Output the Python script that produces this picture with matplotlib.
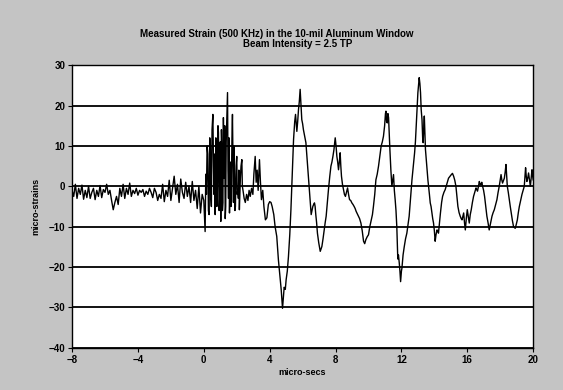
import numpy as np
import matplotlib.pyplot as plt

# strain record (micro-secs, micro-strains)
pre_time = [-8.0, -7.9, -7.8, -7.7, -7.6, -7.5, -7.4, -7.3, -7.2, -7.1,
            -7.0, -6.9, -6.8, -6.7, -6.6, -6.5, -6.4, -6.3, -6.2, -6.1,
            -6.0, -5.9, -5.8, -5.7, -5.6, -5.5, -5.4, -5.3, -5.2, -5.1,
            -5.0, -4.9, -4.8, -4.7, -4.6, -4.5, -4.4, -4.3, -4.2, -4.1,
            -4.0, -3.9, -3.8, -3.7, -3.6, -3.5, -3.4, -3.3, -3.2, -3.1,
            -3.0, -2.9, -2.8, -2.7, -2.6, -2.5, -2.4, -2.3, -2.2, -2.1,
            -2.0, -1.9, -1.8, -1.7, -1.6, -1.5, -1.4, -1.3, -1.2, -1.1,
            -1.0, -0.9, -0.8, -0.7, -0.6, -0.5, -0.4, -0.3, -0.2, -0.1, 0.0]
pre_strain = [-1.0, -2.5, 0.5, -3.0, -0.5, -2.0, 0.3, -3.2, -1.0, -2.8,
              0.0, -3.0, -1.5, -0.5, -3.3, -1.0, -2.5, 0.2, -2.8, -0.8,
              -1.5, 0.5, -2.0, -1.0, -3.5, -5.8, -4.0, -2.5, -4.5, -0.5,
              -2.5, 0.5, -3.0, -0.5, -2.0, 0.8, -2.5, -1.0, -1.8, -0.5,
              -2.2, -1.0, -1.5, -0.8, -2.5, -1.2, -2.0, -0.5, -1.5, -2.8,
              -0.5, -1.5, -3.5, -2.0, -3.0, 0.5, -3.8, -1.0, -2.5, 1.5,
              -3.5, -0.5, 2.5, -2.0, 0.5, -4.0, 1.8, -1.5, -3.0, 1.0,
              -2.5, 0.0, -4.0, 1.2, -3.5, -1.0, -5.5, 0.0, -6.6, -2.0, -3.5]

burst_time = [0.08, 0.12, 0.16, 0.20, 0.24, 0.28, 0.32, 0.36, 0.40, 0.43,
              0.46, 0.50, 0.55, 0.59, 0.62, 0.66, 0.69, 0.73, 0.76, 0.79,
              0.82, 0.86, 0.89, 0.93, 0.96, 1.00, 1.03, 1.07, 1.10, 1.13,
              1.16, 1.19, 1.22, 1.24, 1.27, 1.30, 1.33, 1.36, 1.40, 1.44,
              1.47, 1.50, 1.53, 1.56, 1.59, 1.62, 1.65, 1.67, 1.71, 1.74,
              1.77, 1.80, 1.83, 1.86, 1.89, 1.92, 1.96, 2.00, 2.03, 2.06,
              2.10, 2.13, 2.16, 2.19, 2.22, 2.26, 2.31, 2.34, 2.38, 2.45,
              2.52, 2.60, 2.68, 2.75, 2.82, 2.90, 2.98, 3.04, 3.12, 3.18,
              3.24, 3.30, 3.38, 3.44, 3.50, 3.58, 3.65, 3.74, 3.83, 3.92,
              4.00, 4.08, 4.15]
burst_strain = [-11.2, 3, -2, 10, 8, -6, -7, 12, 10, -3,
                -5, 14, 17.8, 5, -2, 8, -7, 12, 9, -5,
                -4, 15, 13.3, -6, -3, 11, -8.7, 14, 10, -6,
                -4, 17, 8, 2, 15, -8, -5, 11, 17, 23.2,
                4, -3, 12, -6.6, 3, 6, -5, -2, 12, 17.8,
                6, -4, 10, 3, -6, -5, 5, 7.4, -2, -1,
                -3, 4, -5.8, -2, 2, 5, 6.6, 0, -1, -3,
                -4, -2, -3.5, -1, -2.5, -0.5, -2, 3, 7.4, 1,
                4, -1, 6.6, 1, -3.3, -1, -5, -8.3, -7.8, -4.5,
                -3.8, -4, -5]

wave_time = [4.25, 4.33, 4.43, 4.53, 4.62, 4.70, 4.78, 4.84, 4.88, 4.95,
             5.00, 5.07, 5.14, 5.22, 5.29, 5.37, 5.45, 5.52, 5.57, 5.62,
             5.65, 5.70, 5.75, 5.80, 5.85, 5.90, 5.95, 6.00, 6.05, 6.12,
             6.20, 6.25, 6.30, 6.36, 6.42, 6.47, 6.52, 6.57, 6.62, 6.67,
             6.72, 6.76, 6.80, 6.85, 6.90, 6.98, 7.07, 7.12, 7.17, 7.24,
             7.31, 7.37, 7.43, 7.50, 7.57, 7.65, 7.72, 7.78, 7.84, 7.90,
             7.98, 8.03, 8.08, 8.13, 8.18, 8.23, 8.28, 8.32, 8.36, 8.42,
             8.48, 8.54, 8.60, 8.66, 8.73, 8.79, 8.85, 8.92, 8.99, 9.06,
             9.13, 9.19, 9.25, 9.32, 9.39, 9.46, 9.54, 9.62, 9.70, 9.77,
             9.84, 9.92, 10.00, 10.08, 10.17, 10.24, 10.30, 10.38, 10.45, 10.53,
             10.61, 10.69, 10.77, 10.84, 10.91, 10.98, 11.03, 11.06, 11.10, 11.14,
             11.18, 11.22, 11.26, 11.30, 11.36, 11.42, 11.47, 11.52, 11.57, 11.62,
             11.67, 11.72, 11.78, 11.82, 11.87, 11.91, 11.95, 12.00, 12.03, 12.10,
             12.17, 12.25, 12.33, 12.40, 12.47, 12.55, 12.64, 12.72, 12.80, 12.85,
             12.90, 12.95, 13.00, 13.04, 13.08, 13.12, 13.16, 13.20, 13.25, 13.29,
             13.32, 13.36, 13.39, 13.43, 13.46, 13.52, 13.57, 13.61, 13.65, 13.70,
             13.75, 13.80, 13.85, 13.90, 13.95, 14.00, 14.05, 14.10, 14.16, 14.21,
             14.25, 14.31, 14.37, 14.44, 14.50, 14.58, 14.66, 14.75, 14.86, 14.95]
wave_strain = [-7, -10, -12.4, -18.2, -22, -25.6, -30.2, -27, -25, -25.5,
               -23.1, -21, -17.4, -12, -5.8, 3, 11.6, 16, 17.8, 15,
               13.6, 16, 19, 21, 24, 20, 16.5, 15.5, 14, 12.5,
               10.8, 8, 5, 2, -1.7, -4, -7, -6, -5, -4.5,
               -4.1, -5, -7, -9, -11.6, -14, -16.1, -15.5, -14.9, -13,
               -10.8, -9, -7.4, -4, -0.8, 2.5, 5, 6, 7.4, 9,
               12, 10, 7.4, 6, 4.1, 6, 8.3, 5, 2.5, 0.5,
               -0.8, -2, -2.5, -1.5, -0.4, -2, -3.3, -3.5, -4.1, -4.5,
               -5, -5.5, -6.2, -6.8, -7.4, -8, -9.1, -11, -13.6, -14.2,
               -13.2, -12.5, -12, -10, -8.3, -7, -5, -2, 1.6, 3,
               5, 7.5, 10, 11, 12.4, 15, 18, 18.6, 16, 15.7,
               18, 17, 13, 9.1, 4, 0, 1.5, 2.9, -1, -3.3,
               -6, -10, -18, -17, -19, -21, -23.6, -21, -20.3, -17,
               -15, -13, -11.6, -9.5, -7.4, -3, 1.6, 5, 8.3, 11,
               14.9, 19, 23.2, 25, 26.9, 25.5, 23.2, 19, 16.5, 12,
               10.8, 15, 17.4, 13, 9.1, 6, 3.3, 1.5, 0, -2,
               -4.1, -5, -6.6, -8, -9.1, -11, -13.6, -12, -10.8, -11,
               -11.6, -9, -6.6, -4, -2.5, -1.5, -0.8, 0.5, 2, 2.5]

tail_time = [15.03, 15.10, 15.17, 15.24, 15.31, 15.37, 15.43, 15.50, 15.57, 15.63,
             15.68, 15.73, 15.78, 15.83, 15.88, 15.94, 16.00, 16.06, 16.12, 16.18,
             16.24, 16.31, 16.38, 16.45, 16.53, 16.58, 16.62, 16.68, 16.73, 16.78,
             16.83, 16.88, 16.93, 16.99, 17.05, 17.12, 17.19, 17.26, 17.33, 17.42,
             17.50, 17.57, 17.64, 17.72, 17.80, 17.87, 17.94, 18.00, 18.05, 18.10,
             18.14, 18.20, 18.25, 18.30, 18.35, 18.39, 18.43, 18.49, 18.55, 18.61,
             18.67, 18.74, 18.81, 18.86, 18.91, 18.97, 19.04, 19.10, 19.16, 19.24,
             19.32, 19.39, 19.46, 19.50, 19.54, 19.58, 19.62, 19.67, 19.72, 19.78,
             19.83, 19.88, 19.93, 19.97, 20.00]
tail_strain = [2.9, 3.2, 2.5, 1.5, 0, -2.5, -5, -6.5, -7.4, -8,
               -8.3, -7.5, -6.6, -9, -10.8, -8, -5.8, -7.5, -9.1, -7,
               -5.8, -4, -2.5, -1.5, -0.4, -0.8, -1.2, 0, 1.2, 0.5,
               0.4, 1, 0, -1, -2.5, -5, -7.4, -9, -10.8, -9,
               -7.4, -6.5, -5.8, -4.5, -3.3, -1.5, 0, 1.5, 2.9, 1.5,
               0.8, 1.5, 2, 3.5, 5.4, 2.5, 0, -1.5, -3.3, -5,
               -6.6, -8.5, -10, -10.2, -10.4, -9.5, -8.3, -6.5, -5, -3.5,
               -2, -1, 0, 2.5, 4.6, 2.5, 1.2, 2, 3.3, 1.5,
               0, 2, 4.1, 2.5, 1.6]

time_us = pre_time + burst_time + wave_time + tail_time
strain = pre_strain + burst_strain + wave_strain + tail_strain

x_ticks = [-8, -4, 0, 4, 8, 12, 16, 20]
y_ticks = [-40, -30, -20, -10, 0, 10, 20, 30]

plt.rcParams['font.family'] = ['Liberation Sans', 'DejaVu Sans']

fig = plt.figure(figsize=(5.63, 3.9), dpi=100, facecolor='#c4c4c4')
ax = fig.add_axes([0.128, 0.108, 0.819, 0.725])
ax.set_facecolor('white')

for y in y_ticks:
    ax.axhline(y, color='black', lw=1.3, zorder=1)

ax.plot(time_us, strain, color='black', lw=1.0, zorder=2)

ax.set_xlim(-8, 20)
ax.set_ylim(-40, 30)
ax.set_xticks(x_ticks)
ax.set_yticks(y_ticks)
ax.tick_params(direction='out', length=3, width=0.8, labelsize=7, pad=2)
for lab in ax.get_xticklabels() + ax.get_yticklabels():
    lab.set_fontweight('bold')
for s in ax.spines.values():
    s.set_color('black')
    s.set_linewidth(1.0)

ax.set_xlabel('micro-secs', fontsize=6.5, fontweight='bold', labelpad=2)
ax.set_ylabel('micro-strains', fontsize=6.5, fontweight='bold', labelpad=6)

fig.text(277 / 563, 1 - 34 / 390, 'Measured Strain (500 KHz) in the 10-mil Aluminum Window',
         ha='center', va='center', fontsize=7, fontweight='bold')
fig.text(298 / 563, 1 - 44 / 390, 'Beam Intensity = 2.5 TP',
         ha='center', va='center', fontsize=7, fontweight='bold')

fig.savefig('out.png', dpi=100, facecolor=fig.get_facecolor())
